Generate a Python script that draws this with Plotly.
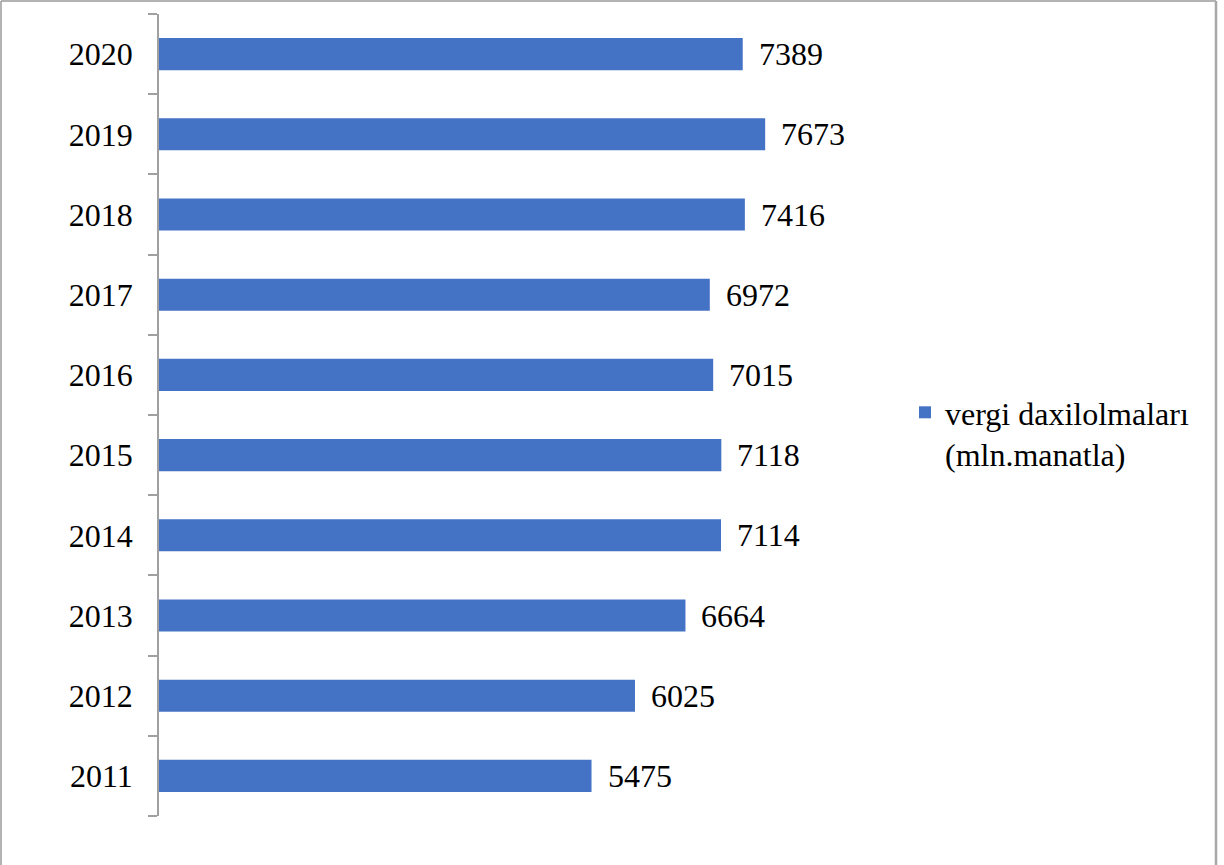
import plotly.graph_objects as go

years = ["2011", "2012", "2013", "2014", "2015", "2016", "2017", "2018", "2019", "2020"]
values = [5475, 6025, 6664, 7114, 7118, 7015, 6972, 7416, 7673, 7389]
series_name = "vergi daxilolmaları<br>(mln.manatla)"

W, H = 1224, 865
L, R, T, B = 159, 870, 14, 816
XMAX = 9000

def px(x):
    return (x - L) / (R - L)

def py(y):
    return (B - y) / (B - T)

FONT = "Liberation Serif, Times New Roman, serif"
FS = 32

fig = go.Figure()
fig.add_trace(go.Bar(
    y=years, x=values, orientation="h", name=series_name,
    marker=dict(color="#4472C4", line=dict(width=0)),
    showlegend=True,
))

for i, v in enumerate(values):
    fig.add_annotation(x=v, y=i, text=str(v), showarrow=False, xanchor="left",
                       xshift=14, font=dict(family=FONT, size=FS, color="#000000"))

shapes = [
    dict(type="line", xref="paper", yref="paper", x0=px(1), x1=px(1216), y0=py(1), y1=py(1),
         line=dict(color="#9a9a9a", width=1.5)),
    dict(type="line", xref="paper", yref="paper", x0=px(1), x1=px(1), y0=py(1), y1=py(880),
         line=dict(color="#9a9a9a", width=1.5)),
    dict(type="line", xref="paper", yref="paper", x0=px(1216), x1=px(1216), y0=py(1), y1=py(880),
         line=dict(color="#a8a8a8", width=2.5)),
]

fig.update_layout(
    width=W, height=H,
    margin=dict(l=L, r=W - R, t=T, b=H - B, pad=0),
    paper_bgcolor="white", plot_bgcolor="white",
    bargap=0.6,
    font=dict(family=FONT, size=FS, color="#000000"),
    xaxis=dict(range=[0, XMAX], visible=False, fixedrange=True),
    yaxis=dict(type="category", categoryorder="array", categoryarray=years,
               range=[-0.5, len(years) - 0.5], autorange=False,
               showline=True, linecolor="#a0a0a0", linewidth=1.5,
               ticks="outside", tickson="boundaries", ticklen=9, tickcolor="#a0a0a0",
               tickwidth=1.5, showgrid=False, ticklabelstandoff=18,
               tickfont=dict(family=FONT, size=FS, color="#000000")),
    legend=dict(x=px(905), y=py(385), xanchor="left", yanchor="top",
                font=dict(family=FONT, size=FS, color="#000000"),
                bgcolor="rgba(0,0,0,0)", itemwidth=30, valign="top"),
    shapes=shapes,
)

fig.write_html("out.html")
